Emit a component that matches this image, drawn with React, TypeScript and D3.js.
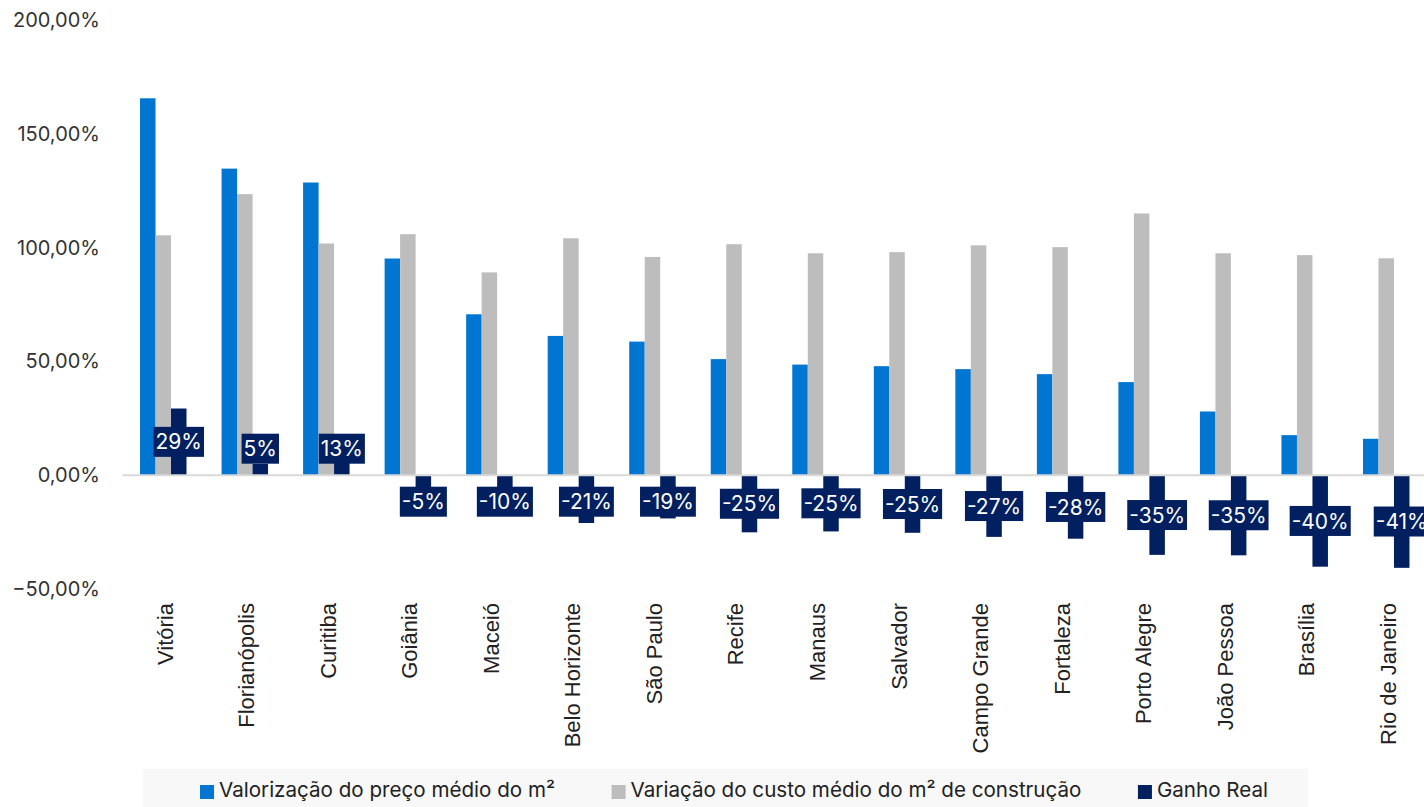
import React, { useEffect, useRef } from "react";
import * as d3 from "d3";

const cities = ["Vitória", "Florianópolis", "Curitiba", "Goiânia", "Maceió", "Belo Horizonte", "São Paulo", "Recife", "Manaus", "Salvador", "Campo Grande", "Fortaleza", "Porto Alegre", "João Pessoa", "Brasília", "Rio de Janeiro"];
const valorizacao = [165.6, 134.7, 128.6, 95.2, 70.7, 61.2, 58.7, 51.0, 48.6, 47.9, 46.6, 44.4, 40.9, 28.0, 17.6, 16.0];
const custo = [105.4, 123.5, 101.8, 105.9, 89.1, 104.1, 95.9, 101.5, 97.5, 98.0, 101.0, 100.2, 115.0, 97.5, 96.7, 95.3];
const ganho = [29.3, 5.0, 13.3, -5.2, -9.7, -21.0, -19.0, -25.1, -24.7, -25.3, -27.1, -27.9, -35.0, -35.2, -40.2, -40.7];
const yTicks = [-50, 0, 50, 100, 150, 200];
const seriesNames = ["Valorização do preço médio do m²", "Variação do custo médio do m² de construção", "Ganho Real"];
const seriesColors = ["#0175d2", "#bdbdbd", "#022060"];

const W = 1424;
const H = 807;

export default function App() {
  const ref = useRef<SVGSVGElement>(null);

  useEffect(() => {
    const svg = d3.select(ref.current);
    svg.selectAll("*").remove();

    const y = d3.scaleLinear().domain([-50, 200]).range([589, 20]);
    const x0 = d3.scaleBand<string>().domain(cities).range([122.5, 1427]).padding(0);
    const bw = x0.bandwidth();
    const x1 = d3.scaleBand<number>().domain([0, 1, 2]).range([bw * 0.215, bw * 0.785]).padding(0);

    // y tick labels
    const yg = svg.append("g");
    yTicks.forEach((t) => {
      yg.append("text")
        .attr("x", 100)
        .attr("y", y(t))
        .attr("dy", "0.35em")
        .attr("text-anchor", "end")
        .attr("font-family", "Inter, sans-serif")
        .attr("font-size", 20)
        .attr("fill", "#333")
        .text(d3.format(".2f")(t).replace(".", ",") + "%");
    });

    const series = [valorizacao, custo, ganho];
    const bars = svg.append("g");
    series.forEach((vals, si) => {
      bars.selectAll(null)
        .data(vals)
        .enter()
        .append("rect")
        .attr("x", (_, i) => (x0(cities[i]) as number) + (x1(si) as number))
        .attr("width", x1.bandwidth())
        .attr("y", (v) => y(Math.max(0, v)))
        .attr("height", (v) => Math.abs(y(v) - y(0)))
        .attr("fill", seriesColors[si]);
    });

    // zero line
    svg.append("line")
      .attr("x1", 122.5)
      .attr("x2", W)
      .attr("y1", y(0))
      .attr("y2", y(0))
      .attr("stroke", "#d9d9d9")
      .attr("stroke-width", 2);

    // category labels
    cities.forEach((c) => {
      const cx = (x0(c) as number) + bw / 2;
      svg.append("text")
        .attr("transform", `translate(${cx + 9.5},603) rotate(-90)`)
        .attr("text-anchor", "end")
        .attr("font-family", "'Liberation Sans', Arial, sans-serif")
        .attr("font-size", 22)
        .attr("fill", "#222")
        .text(c);
    });

    // data labels for ganho
    const lg = svg.append("g");
    ganho.forEach((v, i) => {
      const cx = (x0(cities[i]) as number) + (x1(2) as number) + x1.bandwidth() / 2;
      const half = Math.abs(y(v) - y(0)) / 2;
      const off = Math.max(half, 26.5);
      const cy = v >= 0 ? y(0) - off : y(0) + off;
      const g = lg.append("g");
      const rect = g.append("rect").attr("fill", "#022060");
      const txt = g.append("text")
        .attr("x", cx)
        .attr("y", cy)
        .attr("dy", "0.36em")
        .attr("text-anchor", "middle")
        .attr("font-family", "Inter, sans-serif")
        .attr("font-size", 21)
        .attr("fill", "#ffffff")
        .text(Math.round(v) + "%");
      const tw = (txt.node() as SVGTextElement).getComputedTextLength();
      rect.attr("x", cx - tw / 2 - 2).attr("width", tw + 4).attr("y", cy - 15).attr("height", 30);
    });

    // legend
    const leg = svg.append("g");
    leg.append("rect").attr("x", 143).attr("y", 769).attr("width", 1308 - 143).attr("height", 40).attr("fill", "#f8f8f8");
    let lx = 200;
    seriesNames.forEach((n, i) => {
      leg.append("rect").attr("x", lx).attr("y", 785).attr("width", 14).attr("height", 14).attr("fill", seriesColors[i]);
      const t = leg.append("text")
        .attr("x", lx + 19)
        .attr("y", 797)
        .attr("font-family", "Inter, sans-serif")
        .attr("font-size", 20.6)
        .attr("fill", "#222")
        .text(n);
      const tw = (t.node() as SVGTextElement).getComputedTextLength();
      lx = lx + 19 + tw + 56.5;
    });
  }, []);

  return (
    <svg
      ref={ref}
      width={W}
      height={H}
      style={{ position: "absolute", left: 0, top: 0, background: "#fff" }}
    />
  );
}
